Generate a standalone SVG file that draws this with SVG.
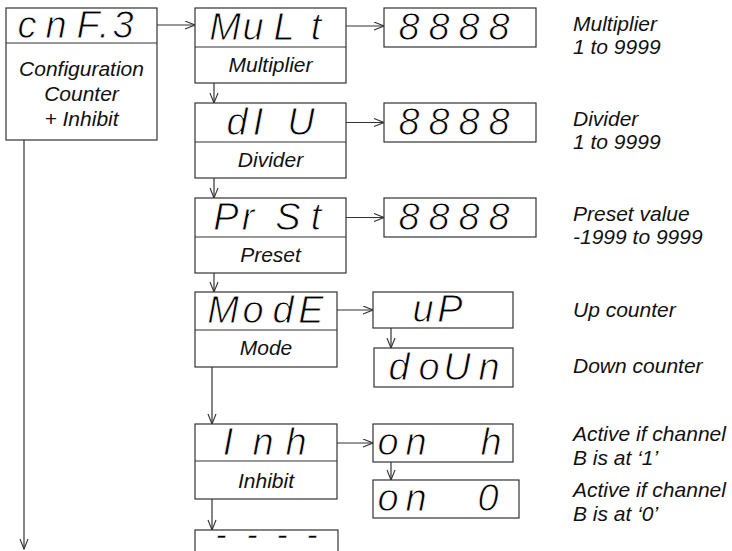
<svg xmlns="http://www.w3.org/2000/svg" width="732" height="551" viewBox="0 0 732 551">
  <style>
    .box { fill: #fff; stroke: #333; stroke-width: 1.2; }
    .div { stroke: #333; stroke-width: 1.2; }
    .seg { font-family: "Liberation Sans", Arial, sans-serif; font-style: italic; font-size: 38px; fill: #000; stroke: #fff; stroke-width: 0.9; text-anchor: middle; }
    .dash { font-size: 32px; stroke-width: 0.4; }
    .lbl { font-family: "Liberation Sans", Arial, sans-serif; font-style: italic; font-size: 21px; fill: #111; }
    .ctr { text-anchor: middle; }
    .conn { stroke: #333; stroke-width: 1.2; fill: none; marker-end: url(#arr); }
  </style>
  <defs>
    <marker id="arr" markerUnits="userSpaceOnUse" markerWidth="12" markerHeight="10" refX="11" refY="4.5" orient="auto">
      <path d="M1,0.5 L11,4.5 L1,8.5" fill="none" stroke="#333" stroke-width="1.1"/>
    </marker>
  </defs>
  <rect width="732" height="551" fill="#fff"/>

  <!-- connectors -->
  <g id="connectors">
    <line class="conn" x1="157" y1="25" x2="195" y2="25"/>
    <line class="conn" x1="346" y1="26" x2="384" y2="26"/>
    <line class="conn" x1="346" y1="122.5" x2="384" y2="122.5"/>
    <line class="conn" x1="346" y1="217.5" x2="384" y2="217.5"/>
    <line class="conn" x1="337" y1="310" x2="373" y2="310"/>
    <line class="conn" x1="337" y1="443" x2="373" y2="443"/>
    <line class="conn" x1="214" y1="83" x2="214" y2="103"/>
    <line class="conn" x1="214" y1="178" x2="214" y2="198"/>
    <line class="conn" x1="214" y1="273" x2="214" y2="292"/>
    <line class="conn" x1="212" y1="367" x2="212" y2="424"/>
    <line class="conn" x1="212" y1="499" x2="212" y2="530"/>
    <line class="conn" x1="391" y1="328" x2="391" y2="348"/>
    <line class="conn" x1="391" y1="462" x2="391" y2="480"/>
    <line class="conn" x1="24" y1="140" x2="24" y2="549"/>
  </g>

  <!-- configuration entry -->
  <g id="cnf3">
    <rect class="box" x="6" y="8" width="151" height="132"/>
    <line class="div" x1="6" y1="43" x2="157" y2="43"/>
    <text class="seg" x="27 56 88 104 123" y="38">cnF.3</text>
    <text class="lbl ctr" x="81.5" y="76">Configuration</text>
    <text class="lbl ctr" x="81.5" y="101">Counter</text>
    <text class="lbl ctr" x="81.5" y="126">+ Inhibit</text>
  </g>

  <!-- main menu column -->
  <g id="mult">
    <rect class="box" x="195" y="8" width="151" height="75"/>
    <line class="div" x1="195" y1="47" x2="346" y2="47"/>
    <text class="seg" x="225 253 284 316" y="40">MuLt</text>
    <text class="lbl ctr" x="270.5" y="72">Multiplier</text>
  </g>
  <g id="div">
    <rect class="box" x="195" y="103" width="151" height="75"/>
    <line class="div" x1="195" y1="142" x2="346" y2="142"/>
    <text class="seg" x="237 258 301" y="135">dIU</text>
    <text class="lbl ctr" x="270.5" y="167">Divider</text>
  </g>
  <g id="prst">
    <rect class="box" x="195" y="198" width="151" height="75"/>
    <line class="div" x1="195" y1="237" x2="346" y2="237"/>
    <text class="seg" x="226 248 288 316" y="230">PrSt</text>
    <text class="lbl ctr" x="270.5" y="262">Preset</text>
  </g>
  <g id="mode">
    <rect class="box" x="195" y="292" width="142" height="75"/>
    <line class="div" x1="195" y1="330" x2="337" y2="330" stroke-width="2"/>
    <text class="seg" x="223 253 283 311" y="323">ModE</text>
    <text class="lbl ctr" x="266" y="355">Mode</text>
  </g>
  <g id="inh">
    <rect class="box" x="195" y="424" width="142" height="75"/>
    <line class="div" x1="195" y1="461" x2="337" y2="461"/>
    <text class="seg" x="228 263 296" y="455">Inh</text>
    <text class="lbl ctr" x="266" y="488">Inhibit</text>
  </g>
  <g id="end">
    <rect class="box" x="195" y="530" width="143" height="40"/>
    <text class="seg dash" x="221 252 282 312" y="545">----</text>
  </g>

  <!-- value displays -->
  <g id="mult-val">
    <rect class="box" x="384" y="8" width="152" height="39"/>
    <text class="seg" x="409 439 469 499" y="40">8888</text>
  </g>
  <g id="div-val">
    <rect class="box" x="384" y="103" width="152" height="39"/>
    <text class="seg" x="409 439 469 499" y="135">8888</text>
  </g>
  <g id="prst-val">
    <rect class="box" x="384" y="198" width="152" height="39"/>
    <text class="seg" x="409 439 469 499" y="230">8888</text>
  </g>
  <g id="mode-up">
    <rect class="box" x="373" y="292" width="140" height="36"/>
    <text class="seg" x="423 450" y="322">uP</text>
  </g>
  <g id="mode-down">
    <rect class="box" x="374" y="348" width="139" height="39"/>
    <text class="seg" x="399 429 457 489" y="380">doUn</text>
  </g>
  <g id="inh-high">
    <rect class="box" x="373" y="424" width="140" height="38"/>
    <text class="seg" x="388 416 491" y="455">onh</text>
  </g>
  <g id="inh-low">
    <rect class="box" x="373" y="480" width="146" height="38"/>
    <text class="seg" x="388 416 488" y="511">on0</text>
  </g>

  <!-- descriptions -->
  <g id="notes">
    <text class="lbl" x="573" y="31">Multiplier</text>
    <text class="lbl" x="573" y="54">1 to 9999</text>
    <text class="lbl" x="573" y="126">Divider</text>
    <text class="lbl" x="573" y="149">1 to 9999</text>
    <text class="lbl" x="573" y="221">Preset value</text>
    <text class="lbl" x="573" y="244">-1999 to 9999</text>
    <text class="lbl" x="573" y="317">Up counter</text>
    <text class="lbl" x="573" y="373">Down counter</text>
    <text class="lbl" x="573" y="441">Active if channel</text>
    <text class="lbl" x="573" y="465">B is at ‘1’</text>
    <text class="lbl" x="573" y="497">Active if channel</text>
    <text class="lbl" x="573" y="521">B is at ‘0’</text>
  </g>
</svg>
